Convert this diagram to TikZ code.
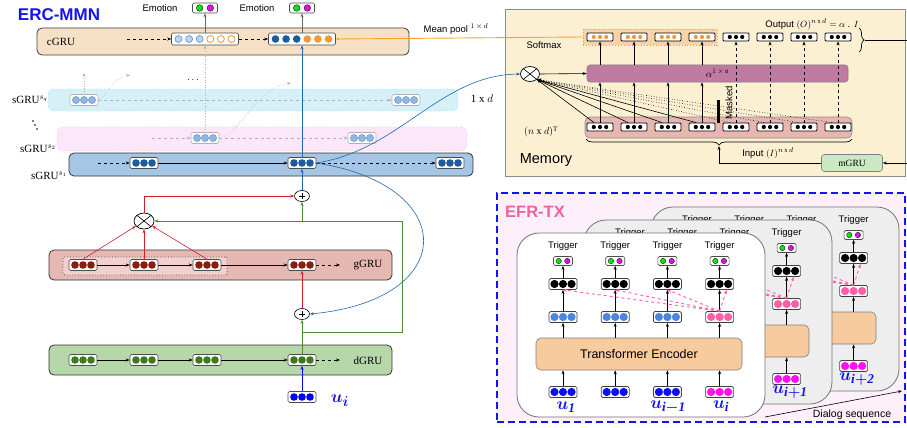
\documentclass[tikz,border=0pt]{standalone}
\usepackage{fontspec}
\setmainfont{Liberation Serif}
\setsansfont{Liberation Sans}
\usetikzlibrary{arrows.meta,shapes.geometric,decorations.pathreplacing}

\definecolor{cgrufill}{HTML}{F7E1C6}
\definecolor{sqfill}{HTML}{D5F1F7}
\definecolor{sqline}{HTML}{A9DCE8}
\definecolor{s2fill}{HTML}{FCE6FA}
\definecolor{s2line}{HTML}{F0B8EC}
\definecolor{s1fill}{HTML}{A6C6E6}
\definecolor{ggrufill}{HTML}{E5B8B1}
\definecolor{ginner}{HTML}{F3CFCF}
\definecolor{dgrufill}{HTML}{B6D7A8}
\definecolor{darkblue}{HTML}{1D5A9E}
\definecolor{lightblue}{HTML}{8FB7E2}
\definecolor{lbline}{HTML}{5E90C8}
\definecolor{corange}{HTML}{EE9A3C}
\definecolor{gred}{HTML}{8C1C0C}
\definecolor{dgreen}{HTML}{3E7A1C}
\definecolor{redline}{HTML}{D0202A}
\definecolor{greenline}{HTML}{4F8A30}
\definecolor{blueline}{HTML}{2066AA}
\definecolor{ublue}{HTML}{1414F0}
\definecolor{memfill}{HTML}{FBF0D2}
\definecolor{alphafill}{HTML}{C17AA2}
\definecolor{inband}{HTML}{E8B6B0}
\definecolor{softfill}{HTML}{F9D2A6}
\definecolor{mgrufill}{HTML}{CBE8C3}
\definecolor{meanline}{HTML}{F5A623}
\definecolor{efrfill}{HTML}{FDF0FB}
\definecolor{efrlab}{HTML}{F0629E}
\definecolor{cardgray}{HTML}{EEEEEE}
\definecolor{transfill}{HTML}{F8CB9E}
\definecolor{efrblue}{HTML}{0A10F5}
\definecolor{efrmag}{HTML}{FF10F0}
\definecolor{efrmid}{HTML}{4A86E0}
\definecolor{efrpink}{HTML}{FF5FA6}
\definecolor{tgreen}{HTML}{10E010}
\definecolor{tmag}{HTML}{E010E0}

% box with three dots: [style]{name}{(pos)}{radius}{spacing}{dot style}
\newcommand{\tbx}[6][]{%
  \node[tbox,#1] (#2) at #3 {};
  \foreach \qq in {-1,0,1}{\fill[#6] ([xshift={\qq*#5pt}]#2.center) circle (#4pt);}
}
% two-dot box: {name}{(pos)}{w}{h}{shift}{radius}
\newcommand{\trig}[6]{%
  \node[tbox, minimum width=#3pt, minimum height=#4pt] (#1) at #2 {};
  \fill[tgreen, draw=black, line width=0.3pt] ([xshift=-#5pt]#1.center) circle (#6pt);
  \fill[tmag, draw=black, line width=0.3pt] ([xshift=#5pt]#1.center) circle (#6pt);
}

\begin{document}
\begin{tikzpicture}[x=1pt,y=-1pt,line width=0.6pt,
  tbox/.style={rectangle, draw=black!70, fill=white, rounded corners=1.5pt, minimum width=28pt, minimum height=11pt, inner sep=0pt, line width=0.6pt},
  mb/.style={minimum width=26pt, minimum height=8pt, draw=black, line width=0.9pt, rounded corners=1pt},
  eb/.style={minimum width=28pt, minimum height=11pt, draw=black!75, line width=0.7pt},
  band/.style={rectangle, rounded corners=5pt, inner sep=0pt},
  arr/.style={-{Stealth[length=4pt,width=3pt]}},
  lab/.style={font=\rmfamily\fontsize{11}{13}\selectfont, inner sep=0pt},
  sanslab/.style={font=\sffamily\fontsize{9.5}{11}\selectfont, inner sep=0pt},
  plusnode/.style={ellipse, draw=black, fill=white, minimum width=15pt, minimum height=11pt, inner sep=0pt, line width=0.6pt},
  xnode/.style={ellipse, draw=black, fill=white, minimum width=20pt, minimum height=16pt, inner sep=0pt, line width=0.7pt},
  card/.style={rectangle, rounded corners=22pt, draw=black!55, line width=0.8pt, minimum width=248pt, minimum height=184pt, inner sep=0pt},
  transbox/.style={rectangle, rounded corners=5pt, draw=black!50, fill=transfill, minimum width=206pt, minimum height=32pt, font=\sffamily\fontsize{12.5}{14}\selectfont},
  pinkdash/.style={draw=efrpink, dashed, line width=0.9pt, -{Stealth[length=4pt,width=3pt]}},
  ulab/.style={text=ublue, font=\boldmath\fontsize{19}{21}\selectfont, inner sep=0pt},
]
\useasboundingbox (0,0) rectangle (907,428);

% ================= backgrounds =================
\node[band, draw=black!75, line width=0.8pt, fill=cgrufill, minimum width=372pt, minimum height=27pt] (cgru) at (223,41.5) {};
\node[band, draw=sqline, dotted, fill=sqfill, minimum width=410pt, minimum height=22pt] (sqband) at (253,100) {};
\node[band, draw=s2line, dotted, fill=s2fill, minimum width=410pt, minimum height=24pt] (s2band) at (262,139) {};
\node[band, draw=black!80, line width=0.8pt, fill=s1fill, minimum width=404pt, minimum height=23pt] (s1band) at (271,164.5) {};
\node[band, draw=black!80, line width=0.8pt, fill=ggrufill, minimum width=343pt, minimum height=30pt] (gband) at (220.5,265) {};
\node[band, draw=black!70, dotted, line width=0.8pt, fill=ginner, rounded corners=2pt, minimum width=164pt, minimum height=18pt] (ginnerbox) at (145,266) {};
\node[band, draw=black!80, line width=0.8pt, fill=dgrufill, minimum width=343pt, minimum height=30pt] (dband) at (220.5,360) {};

\node[rectangle, draw=black!45, line width=0.8pt, fill=memfill, minimum width=400pt, minimum height=167pt, inner sep=0pt] (mem) at (705,92.5) {};
\node[rectangle, draw=ublue, dash pattern=on 7pt off 4pt, line width=1.3pt, fill=efrfill, minimum width=408pt, minimum height=229pt, inner sep=0pt] (efr) at (701,307.5) {};

% ================= left: ERC-MMN =================
\node[font=\sffamily\bfseries\fontsize{17}{19}\selectfont, text=ublue, inner sep=0pt] (title) at (59,15) {ERC-MMN};

\node[lab] (lcgru) at (61,42) {cGRU};
\node[lab] (lsq) at (30,100) {sGRU$^{s_q}$};
\node[lab] (ls2) at (38,149) {sGRU$^{s_2}$};
\node[lab] (ls1) at (49,176) {sGRU$^{s_1}$};
\node[lab] (lg) at (368,265) {gGRU};
\node[lab] (ld) at (368,361) {dGRU};
\node[inner sep=0pt] (hdots) at (193,80) {$\cdots$};
\fill (33,121) circle (0.8pt) (35,125) circle (0.8pt) (37,129) circle (0.8pt);

% Emotion
\node[sanslab] (em1) at (160,8) {Emotion};
\node[sanslab] (em2) at (257,8) {Emotion};
\trig{e1}{(205,8)}{25}{10}{5.3}{3.3}
\trig{e2}{(302,8)}{25}{10}{5.3}{3.3}

% cGRU boxes
\node[tbox, minimum width=67pt, minimum height=12pt] (cb1) at (205,39) {};
\foreach \qq in {-2.5,-1.5,-0.5}{\fill[fill=lightblue!60, draw=lbline, line width=0.6pt] ([xshift={\qq*10.6pt}]cb1.center) circle (3.5pt);}
\foreach \qq in {0.5,1.5,2.5}{\fill[fill=white, draw=corange, line width=0.8pt] ([xshift={\qq*10.6pt}]cb1.center) circle (3.5pt);}
\node[tbox, minimum width=67pt, minimum height=12pt] (cb2) at (302,39) {};
\foreach \qq in {-2.5,-1.5,-0.5}{\fill[darkblue] ([xshift={\qq*10.6pt}]cb2.center) circle (3.8pt);}
\foreach \qq in {0.5,1.5,2.5}{\fill[corange] ([xshift={\qq*10.6pt}]cb2.center) circle (3.8pt);}
\coordinate (cstart) at (127,39);
\draw[arr, dashed] (cstart) -- (cb1.west);
\draw[arr, dashed] (cb1.east) -- (cb2.west);
\draw[arr, black!60] (cb1.north) -- (e1.south);
\draw[arr, black!60] (cb2.north) -- (e2.south);

% sGRU boxes
\tbx[draw=black!30]{sq1}{(84,100)}{3.6}{8}{fill=lightblue, draw=lbline, line width=0.4pt}
\tbx[draw=black!30]{sq2}{(406,100)}{3.6}{8}{fill=lightblue, draw=lbline, line width=0.4pt}
\tbx[draw=black!30]{s2b}{(205,138)}{3.6}{8}{fill=lightblue, draw=lbline, line width=0.4pt}
\tbx[draw=black!30]{s2c}{(362,138)}{3.6}{8}{fill=lightblue, draw=lbline, line width=0.4pt}
\tbx{s1a}{(144,163)}{3.8}{8}{darkblue}
\tbx{s1b}{(302,163)}{3.8}{8}{darkblue}
\tbx{s1c}{(450,163)}{3.8}{8}{darkblue}

\draw[arr, gray!60, dashed] (sq1.east) -- (sq2.west);
\coordinate (squp) at (84,73);
\draw[arr, gray!60, dotted] (sq1.north) -- (squp);
\coordinate (sqcv) at (130,75);
\draw[arr, gray!60, dotted] (sq1.east) .. controls (108,96) and (112,78) .. (sqcv);
\coordinate (s2start) at (152,138);
\draw[arr, gray!60, dashed] (s2start) -- (s2b.west);
\draw[arr, gray!60, dashed] (s2b.east) -- (s2c.west);
\coordinate (s2cv) at (291,83);
\draw[arr, gray!60, dotted] (s2b.east) .. controls (240,135) and (255,88) .. (s2cv);
\draw[arr, gray!60, dotted] (s2b.north) -- (cb1.south);
\coordinate (s1start) at (98,163);
\draw[arr, dashed] (s1start) -- (s1a.west);
\draw[arr] (s1a.east) -- (s1b.west);
\draw[arr, dashed] (s1b.east) -- (s1c.west);
\draw[arr, blueline] (s1b.north) -- (cb2.south);

% gGRU
\tbx{g1}{(83,265)}{3.8}{8}{gred}
\tbx{g2}{(144,265)}{3.8}{8}{gred}
\tbx{g3}{(207,265)}{3.8}{8}{gred}
\tbx{g4}{(302,265)}{3.8}{8}{gred}
\draw[arr] (g1.east) -- (g2.west);
\draw[arr] (g2.east) -- (g3.west);
\draw[arr] (g3.east) -- (g4.west);
\coordinate (gend) at (340,265);
\draw[arr, dashed] (g4.east) -- (gend);

% dGRU
\tbx{d1}{(83,360)}{3.8}{8}{dgreen}
\tbx{d2}{(144,360)}{3.8}{8}{dgreen}
\tbx{d3}{(207,360)}{3.8}{8}{dgreen}
\tbx{d4}{(302,360)}{3.8}{8}{dgreen}
\draw[arr] (d1.east) -- (d2.west);
\draw[arr] (d2.east) -- (d3.west);
\draw[arr] (d3.east) -- (d4.west);
\coordinate (dend) at (340,360);
\draw[arr, dashed] (d4.east) -- (dend);

\tbx{ub}{(302,397)}{3.8}{8}{blue}
\node[ulab] (ulft) at (340,401) {$u_i$};
\draw[arr, blue] (ub.north) -- (d4.south);

% operators
\node[xnode] (gx) at (144,221) {};
\draw (gx.north west) -- (gx.south east) (gx.north east) -- (gx.south west);
\node[plusnode] (pu) at (302,196) {};
\draw[line width=0.5pt] ([xshift=-2.6pt]pu.center) -- ([xshift=2.6pt]pu.center) ([yshift=-2.6pt]pu.center) -- ([yshift=2.6pt]pu.center);
\node[plusnode] (pl) at (302,314) {};
\draw[line width=0.5pt] ([xshift=-2.6pt]pl.center) -- ([xshift=2.6pt]pl.center) ([yshift=-2.6pt]pl.center) -- ([yshift=2.6pt]pl.center);

\draw[arr, redline] (g1.north) -- (gx);
\draw[arr, redline] (g2.north) -- (gx.south);
\draw[arr, redline] (g3.north) -- (gx);
\draw[arr, redline] (gx.north) |- (pu.west);
\draw[arr, redline] (pl.north) -- (g4.south);
\draw[arr, blueline] (pu.north) -- (s1b.south);

\draw[arr, greenline] (d4.north) -- (pl.south);
\coordinate (gA) at (302,332);
\coordinate (gC) at (402,221);
\draw[arr, greenline] (gA) -| (gC) -- (gx.east);
\draw[arr, greenline] (gx.east -| pu.south) -- (pu.south);

\draw[arr, blueline] (s1b.east) .. controls (460,185) and (460,300) .. (pl.east);

% ================= Memory =================
\node[rectangle, draw=meanline, dotted, line width=0.9pt, fill=softfill, minimum width=134pt, minimum height=16pt, inner sep=0pt] (softreg) at (650,37) {};
\node[rectangle, rounded corners=5pt, draw=black!45, fill=inband, minimum width=267pt, minimum height=21pt, inner sep=0pt] (inbandbox) at (718.5,127.5) {};
\node[rectangle, rounded corners=3pt, draw=black!50, fill=alphafill, minimum width=261pt, minimum height=17pt, inner sep=0pt] (alpha) at (717.5,73.5) {$\alpha^{1\,\times\,\mathrm{n}}$};
\node[xnode, minimum width=19pt, minimum height=15pt] (ox) at (530,74) {};
\draw (ox.north west) -- (ox.south east) (ox.north east) -- (ox.south west);

\foreach \mm in {1,...,8}{
  \pgfmathsetmacro\mx{600+34*(\mm-1)}
  \ifnum\mm<5 \def\ocol{corange}\else\def\ocol{black}\fi
  \tbx[mb]{out\mm}{(\mx,37)}{2.1}{6.2}{\ocol}
  \tbx[mb]{in\mm}{(\mx,127)}{2.1}{6.2}{black}
}
\foreach \mm in {1,...,4}{
  \draw[arr] (in\mm.north) -- (in\mm.north |- alpha.south);
  \draw[arr] (out\mm.south |- alpha.north) -- (out\mm.south);
  \draw[arr] ([xshift=-6pt]in\mm.north) -- (ox.south east);
}
\foreach \mm in {5,...,8}{
  \draw[arr, dashed] (in\mm.north) -- (out\mm.south);
  \draw[arr, dotted] ([xshift=-6pt]in\mm.north) -- (ox.south east);
}
\draw[arr] (ox.east) -- (alpha.west);

\node[fill=black, minimum width=3.5pt, minimum height=23pt, inner sep=0pt] (mbar) at (718.5,111.5) {};
\node[sanslab, rotate=90] (masked) at (729,103) {Masked};

\node[sanslab] (softlab) at (544,45) {Softmax};
\node[lab, font=\rmfamily\fontsize{10}{12}\selectfont] (ndt) at (541,132) {$(n$ x $d)^{\mathrm{T}}$};
\node[font=\sffamily\fontsize{14.5}{16}\selectfont, inner sep=0pt] (memlab) at (546,160) {Memory};
\node[sanslab] (outlab) at (812,24) {Output $(O)^{n\,\mathrm{x}\,d} = \alpha$ . $I$};
\node[sanslab] (inlab) at (768,153) {Input $(I)^{n\,\mathrm{x}\,d}$};

\draw[decorate, decoration={brace, amplitude=6pt}, line width=0.7pt] (852,139) -- (586,139);
\coordinate (btip) at (719,146);
\node[rectangle, rounded corners=3pt, draw=black!50, fill=mgrufill, minimum width=61pt, minimum height=17pt, font=\rmfamily\fontsize{9.5}{11}\selectfont] (mgru) at (852,163) {mGRU};
\draw[arr] (mgru.west) -| (btip);
\coordinate (mgin) at (907,163);
\draw[arr] (mgin) -- (mgru.east);

\draw[decorate, decoration={brace, amplitude=5pt}, line width=0.7pt] (859,28) -- (859,52);
\coordinate (otip) at (865,40);
\coordinate (oend) at (907,40);
\draw (otip) -- (oend);

% links between left and memory
\draw[arr, meanline, line width=0.9pt] (softreg.west) -- (cb2.east);
\node[sanslab] (meanlab) at (456,29) {Mean pool $^{1\,\times\, d}$};
\node[lab] (onexd) at (482,99) {1 x $d$};
\draw[arr, blueline] (s1b.east) .. controls (400,150) and (440,75) .. (ox.west);

% ================= EFR-TX =================
\node[font=\sffamily\bfseries\fontsize{16.5}{18}\selectfont, text=efrlab, inner sep=0pt] (efrlabel) at (535,212) {EFR-TX};

\foreach \kk/\cf in {2/cardgray,1/cardgray,0/white}{
  \pgfmathsetmacro\dx{67*\kk}
  \pgfmathsetmacro\dy{-13*\kk}
  \node[card, fill=\cf] (card\kk) at (641+\dx,325+\dy) {};
  \node[transbox] (tr\kk) at (639+\dx,354+\dy) {\ifnum\kk=0 Transformer Encoder\fi};
  \foreach \cc in {0,1,2,3}{
    \pgfmathsetmacro\cx{563+52.2*\cc+\dx}
    \ifnum\cc=3 \def\incol{efrmag}\def\midcol{efrpink}\else\def\incol{efrblue}\def\midcol{efrmid}\fi
    \node[sanslab] (trg\kk\cc) at (\cx,246+\dy) {Trigger};
    \trig{tb\kk\cc}{(\cx,261+\dy)}{19}{9}{4.3}{2.7}
    \tbx[eb]{bk\kk\cc}{(\cx,284+\dy)}{4.1}{8.5}{black}
    \tbx[eb]{md\kk\cc}{(\cx,317+\dy)}{4.1}{8.5}{\midcol}
    \tbx[eb]{ip\kk\cc}{(\cx,392+\dy)}{4.1}{8.5}{\incol}
    \draw[arr] (bk\kk\cc.north) -- (tb\kk\cc.south);
    \draw[arr] (md\kk\cc.north) -- (bk\kk\cc.south);
    \draw[arr] (md\kk\cc.south |- tr\kk.north) -- (md\kk\cc.south);
    \draw[arr] (ip\kk\cc.north) -- (ip\kk\cc.north |- tr\kk.south);
  }
  \foreach \cc in {0,1,2}{\draw[pinkdash] (md\kk3.north) -- (bk\kk\cc.south);}
  \draw[pinkdash] (md\kk3.north) -- ([xshift=7pt]bk\kk3.south);
}

\node[ulab] (u1) at (566,407) {$u_{\mathit{1}}$};
\node[ulab] (uim1) at (668,407) {$u_{\mathit{i-1}}$};
\node[ulab] (ui) at (721,406) {$u_{\mathit{i}}$};
\node[ulab] (uip1) at (790,392) {$u_{\mathit{i+1}}$};
\node[ulab] (uip2) at (857,379) {$u_{\mathit{i+2}}$};

\coordinate (dsA) at (765,417);
\coordinate (dsB) at (902,391);
\draw[arr] (dsA) -- (dsB);
\node[sanslab, font=\sffamily\fontsize{10.5}{12}\selectfont] (dslab) at (852,415) {Dialog sequence};

\end{tikzpicture}
\end{document}
